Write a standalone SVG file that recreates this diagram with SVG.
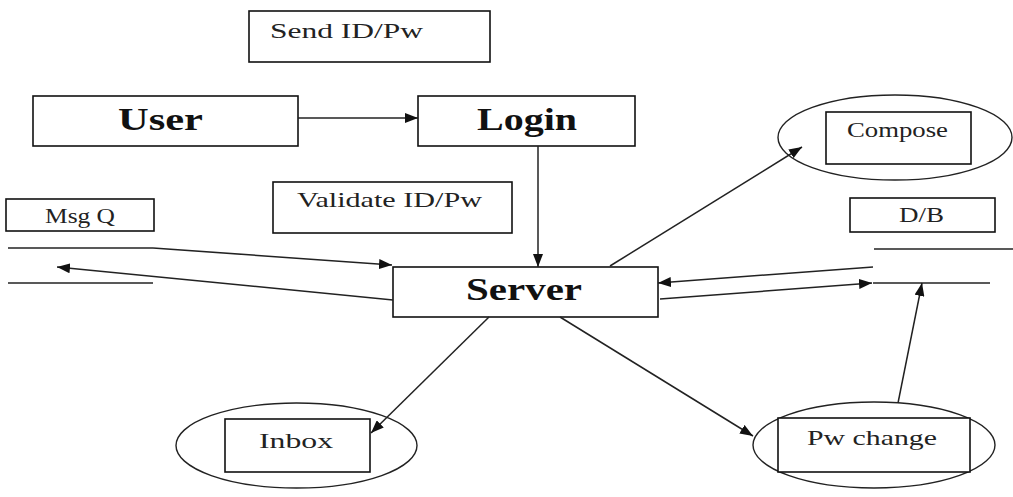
<svg xmlns="http://www.w3.org/2000/svg" width="1013" height="497" viewBox="0 0 1013 497">
<defs>
<marker id="ah" markerUnits="userSpaceOnUse" markerWidth="14" markerHeight="10" refX="13" refY="5" orient="auto">
<path d="M0,0 L13,5 L0,10 Z" fill="#111"/>
</marker>
<style>
.box{fill:#fff;stroke:#111;stroke-width:1.6}
.ell{fill:none;stroke:#222;stroke-width:1.4}
.ln{fill:none;stroke:#222;stroke-width:1.5}
.con{fill:none;stroke:#222;stroke-width:1.5;marker-end:url(#ah)}
.t{font-family:"Liberation Serif","Times New Roman",serif;font-size:21px;fill:#222}
.b{font-family:"Liberation Serif","Times New Roman",serif;font-size:31px;font-weight:bold;fill:#111}
</style>
</defs>
<rect width="1013" height="497" fill="#fff"/>
<g id="send-label">
<rect class="box" x="249" y="11" width="241" height="51"/>
<text class="t" x="270" y="38" textLength="153" lengthAdjust="spacingAndGlyphs">Send ID/Pw</text>
</g>
<g id="user">
<rect class="box" x="33" y="96" width="265" height="50"/>
<text class="b" x="118" y="130" textLength="85" lengthAdjust="spacingAndGlyphs">User</text>
</g>
<g id="login">
<rect class="box" x="418" y="96" width="217" height="50"/>
<text class="b" x="477" y="130" textLength="100" lengthAdjust="spacingAndGlyphs">Login</text>
</g>
<g id="validate-label">
<rect class="box" x="273" y="182" width="239" height="51"/>
<text class="t" x="297" y="207" textLength="185" lengthAdjust="spacingAndGlyphs">Validate ID/Pw</text>
</g>
<g id="msgq">
<rect class="box" x="6" y="199" width="148" height="32"/>
<text class="t" x="45" y="223" textLength="70" lengthAdjust="spacingAndGlyphs">Msg Q</text>
<line class="ln" x1="8" y1="248" x2="153" y2="248"/>
<line class="ln" x1="8" y1="283" x2="153" y2="283"/>
</g>
<g id="server">
<rect class="box" x="393" y="267" width="265" height="50"/>
<text class="b" x="466" y="300" textLength="116" lengthAdjust="spacingAndGlyphs">Server</text>
</g>
<g id="compose">
<ellipse class="ell" cx="895" cy="137.5" rx="117" ry="42.5"/>
<rect class="box" x="826" y="112" width="145" height="52"/>
<text class="t" x="847" y="137" textLength="101" lengthAdjust="spacingAndGlyphs">Compose</text>
</g>
<g id="db">
<rect class="box" x="850" y="198" width="145" height="34"/>
<text class="t" x="899" y="222" textLength="45" lengthAdjust="spacingAndGlyphs">D/B</text>
<line class="ln" x1="874" y1="249" x2="1013" y2="249"/>
<line class="ln" x1="873" y1="283" x2="990" y2="283"/>
</g>
<g id="inbox">
<ellipse class="ell" cx="296.5" cy="445.5" rx="120.5" ry="42.5"/>
<rect class="box" x="225" y="419" width="145" height="53"/>
<text class="t" x="259" y="448" textLength="74" lengthAdjust="spacingAndGlyphs">Inbox</text>
</g>
<g id="pwchange">
<ellipse class="ell" cx="874" cy="445" rx="121" ry="43"/>
<rect class="box" x="778" y="418" width="192" height="54"/>
<text class="t" x="807" y="445" textLength="130" lengthAdjust="spacingAndGlyphs">Pw change</text>
</g>
<g id="connectors">
<path class="con" d="M298,118 L418,118"/>
<path class="con" d="M538,146 L538,267"/>
<path class="con" d="M153,248 L392,265"/>
<path class="con" d="M393,300 L57,267"/>
<path class="con" d="M610,266 L802,147"/>
<path class="con" d="M873,267 L658,283"/>
<path class="con" d="M660,299 L872,283"/>
<path class="con" d="M489,317 L371,433"/>
<path class="con" d="M560,317 L753,436"/>
<path class="con" d="M898,403 L922,283"/>
</g>
</svg>
